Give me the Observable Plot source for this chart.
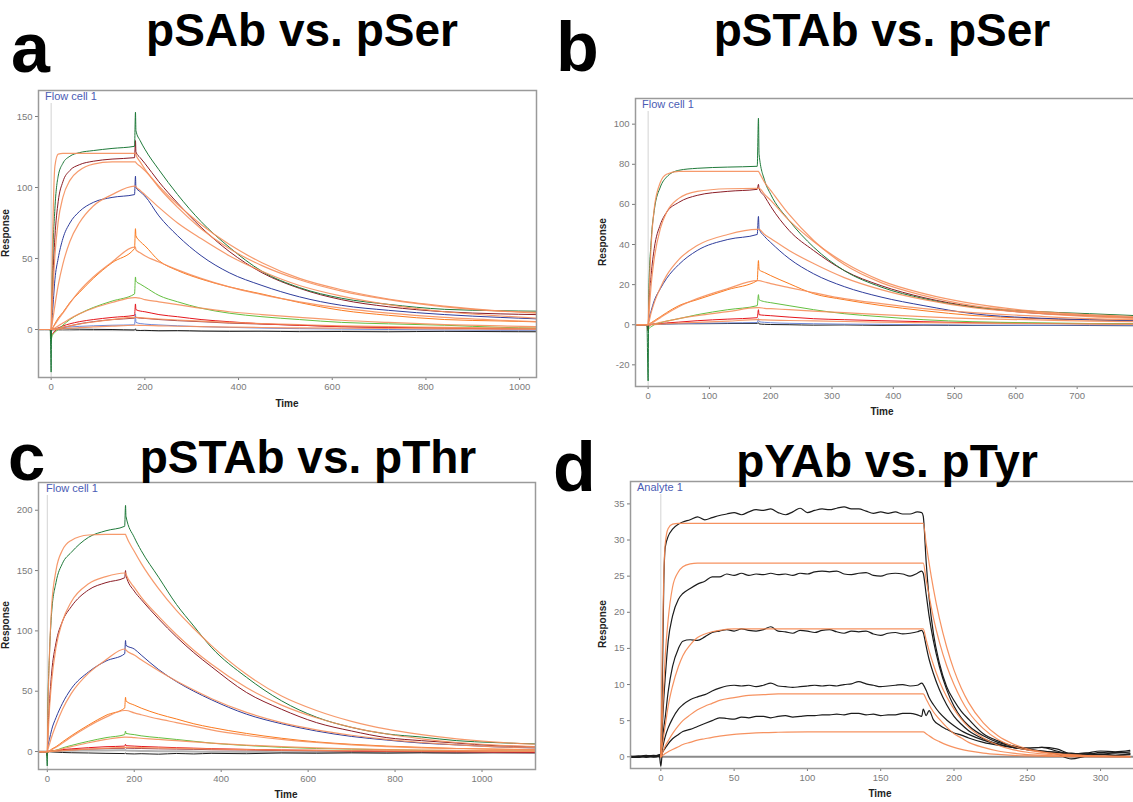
<!DOCTYPE html>
<html><head><meta charset="utf-8">
<script src="https://cdn.jsdelivr.net/npm/d3@7"></script>
<script src="https://cdn.jsdelivr.net/npm/@observablehq/plot@0.6"></script>
<style>
html,body{margin:0;padding:0;background:#fff;}
body{width:1133px;height:802px;overflow:hidden;position:relative;font-family:"Liberation Sans",Arial,sans-serif;}
.pan{position:absolute;}
#overlay{position:absolute;left:0;top:0;pointer-events:none;}
</style></head><body>
<script>
// ---------------- Panel a : pSAb vs. pSer ----------------
const tA = [-27, -2, 0, 1, 3, 8, 15, 25, 40, 60, 90, 130, 178, 180, 181, 190, 200, 230, 270, 320, 380, 450, 530, 620, 720, 840, 960, 1036];
const aGreen   = [0, 0, -30, 10, 45, 85, 108, 117, 122, 124.5, 126, 127.5, 129, 153, 140, 133, 127, 112.5, 95, 76, 58, 41, 29.5, 22, 17.7, 14.2, 13.2, 12.9];
const aMaroon  = [0, 0, -5, 10, 30, 65, 90, 104, 112, 116, 118.5, 120, 121, 133, 125, 121, 117, 104, 89, 72, 55, 40, 29, 21, 16, 12.5, 11, 10.5];
const aBlue    = [0, 0, -3, 3, 12, 35, 50, 64, 75, 83, 89.5, 93, 95, 108, 100, 97, 94, 80, 66, 52, 40, 31, 23, 17, 13.5, 10.5, 8.5, 7.5];
const aOrange  = [0, 0, -2, 0, 1, 4, 8, 12, 19, 26, 36, 47, 57, 71, 66, 62, 59, 48.5, 41.5, 35.5, 30, 25, 19, 13.5, 10, 7, 6, 5.4];
const aLgreen  = [0, 0, -8, -6, -4, -2, 0, 3, 7, 11, 15.5, 20, 25, 37, 34, 32, 30, 24, 19.5, 15, 11.5, 9, 7, 5, 4, 3, 1.5, 1];
const aRed     = [0, 0, -5, -4, -3, -1, 1, 2.5, 4, 5.5, 7, 8.5, 10, 18, 14, 13, 12.5, 10.5, 9, 7, 5.5, 4, 3, 2, 1.5, 1, 0.5, 0.5];
const aMaroon2 = [0, 0, -2, -1, 0, 0.5, 1, 1.5, 2.5, 4, 5.5, 7, 8, 9, 8.5, 8, 7.8, 7, 6.2, 5.5, 4.5, 3.8, 3, 2, 1.5, 1, 0.5, 0.5];
const aBlue2   = [0, 0, -1, 0, 0.3, 0.6, 1, 1.4, 1.8, 2.2, 2.6, 3, 3.3, 11, 5, 4.2, 3.8, 3.2, 2.6, 2, 1.5, 1, 0.6, 0.3, 0, -0.3, -0.5, -0.5];
const aBlack   = [0, 0, 0, 0.2, 0.3, 0.3, 0.2, 0.4, 0.3, 0.2, 0.1, 0, -0.3, 0.5, -0.5, -0.7, -0.6, -0.9, -0.8, -1.1, -1.3, -1.2, -1.5, -1.4, -1.6, -1.3, -1.5, -1.6];
const aGray    = [-0.5, -0.5, -1, -1, -0.8, -0.8, -0.7, -0.7, -0.8, -0.6, -0.7, -0.8, -0.8, -0.5, -0.8, -0.8, -0.9, -1, -1, -1.1, -1, -1.2, -1.1, -1, -1.1, -1.2, -1, -1];
const aFit1 = [0, 0, 0, 20, 60, 115, 123.5, 124, 124, 124, 124, 124, 124, 124, 123, 118, 113, 100, 86, 71, 57, 45, 35, 27, 21, 16, 13, 12];
const aFit2 = [0, 0, 0, 8, 22, 52, 76, 93, 105, 112, 116.5, 118, 118, 118, 117.5, 115, 112, 101, 88, 74, 60, 47, 36, 28, 21.5, 16.5, 13, 11.5];
const aFit3 = [0, 0, 0, 2, 6, 17, 31, 46, 62, 75, 87, 95, 101, 101, 100.5, 98, 95, 86, 75, 64, 52, 41, 31, 23.5, 17.5, 12.5, 9.5, 8];
const aFit4 = [0, 0, 0, 0.3, 1, 3.5, 7, 11.5, 18.5, 27, 37, 47.5, 58, 58, 56, 54, 52, 47.5, 42, 36, 30, 24.5, 19.5, 15, 11.5, 8.5, 6.5, 5.5];
const aFit5 = [0, 0, 0, 0, 0.2, 1, 2.5, 4.5, 7.5, 11, 15, 19, 22.5, 22.5, 22.5, 22, 21, 19.5, 17.5, 15, 12.5, 10.5, 8.5, 6.5, 5, 3.5, 2.5, 2];
const aFit6 = [0, 0, 0, 0, 0, 0.3, 0.8, 1.5, 2.5, 3.8, 5.3, 7, 8.5, 8.5, 8.5, 8.3, 8, 7.4, 6.7, 5.9, 5, 4.2, 3.4, 2.6, 2, 1.5, 1.1, 0.9];
const aFit7 = [0, 0, 0, 0, 0, 0.1, 0.3, 0.5, 0.9, 1.3, 1.8, 2.4, 3, 3, 3, 2.9, 2.8, 2.6, 2.3, 2, 1.7, 1.4, 1.1, 0.9, 0.7, 0.5, 0.4, 0.3];
const aXTicks = [0, 200, 400, 600, 800, 1000];
const aYTicks = [0, 50, 100, 150];

// ---------------- Panel b : pSTAb vs. pSer ----------------
const tB = [-21, -2, 0, 1, 5, 10, 20, 30, 50, 80, 130, 178, 180, 181, 190, 200, 230, 270, 320, 380, 450, 530, 620, 720, 800];
const bGreen  = [0, 0, -28, 15, 42, 57, 68.7, 73.6, 77, 78, 78.6, 79, 103, 85, 72, 65, 52, 38.7, 27, 18.8, 13, 8.8, 6.8, 5.5, 4.5];
const bMaroon = [0, 0, -3, 8, 25, 38, 50, 56, 61, 64.5, 66.5, 67.5, 70, 68, 64, 59, 47, 37, 27, 19.5, 13.5, 9, 6, 4.5, 3.5];
const bBlue   = [0, 0, -2, 2, 7, 12, 18, 23, 30, 37, 42.5, 45, 54, 48, 44, 41, 33, 25.4, 19, 13.8, 9.5, 5.5, 3.5, 2.5, 2];
const bOrange = [0, 0, -1, 0, 1, 2, 4, 6, 9.5, 12.5, 17.5, 22, 32, 27.5, 26, 24.5, 20.5, 15.5, 12.5, 9.6, 7, 4.6, 3.2, 2.4, 2];
const bLgreen = [0, 0, -3, -2, -1, 0, 1, 1.8, 3, 5, 7.5, 9.5, 15, 12.5, 11.5, 11, 9.5, 7.5, 5.5, 4, 2.5, 1.5, 1, 0.6, 0.5];
const bRed    = [0, 0, -2, -1, 0, 0.3, 0.6, 0.9, 1.3, 2, 2.8, 3.5, 7.5, 5, 4.7, 4.5, 3.8, 3, 2.5, 2, 1.5, 1, 0.7, 0.5, 0.4];
const bBlue2  = [0, 0, -1, 0, 0.1, 0.2, 0.3, 0.4, 0.5, 0.7, 0.9, 1.1, 3, 1.5, 1.2, 1, 0.7, 0.5, 0.3, 0.2, 0, -0.2, -0.3, -0.2, -0.3];
const bBlack  = [-0.3, -0.3, 0, 0.1, 0.2, 0.3, 0.3, 0.4, 0.5, 0.5, 0.6, 0.7, 1, 0.4, 0.2, 0.1, 0, -0.2, -0.1, -0.3, -0.2, -0.4, -0.3, -0.4, -0.5];
const bFit1 = [0, 0, 0, 10, 40, 58, 71, 75, 76.5, 76.5, 76.5, 76.5, 76.5, 76, 71, 67, 55, 42, 30, 21, 14.5, 9.5, 6.5, 4.5, 3.5];
const bFit2 = [0, 0, 0, 4, 20, 33, 48, 56, 63, 66.5, 67.8, 68, 68, 68, 65, 62, 52, 41.5, 31, 22, 15.5, 10.5, 7, 5, 4];
const bFit3 = [0, 0, 0, 1, 6, 11, 18.5, 24.5, 32.5, 39.5, 45, 47.5, 47.5, 47.5, 45, 43, 37, 30.5, 23.5, 17.5, 12.5, 8.5, 6, 4, 3];
const bFit4 = [0, 0, 0, 0.2, 0.8, 1.5, 3.5, 5.5, 9, 13, 18, 22, 22, 22, 21.3, 20.5, 18.5, 16, 13, 10.5, 8, 6, 4.5, 3, 2.5];
const bFit5 = [0, 0, 0, 0, 0.2, 0.5, 1.2, 1.8, 3, 4.5, 6.5, 8.5, 8.5, 8.5, 8.2, 8, 7.5, 6.8, 6, 5, 4, 3, 2.5, 1.8, 1.5];
const bFit6 = [0, 0, 0, 0, 0, 0.1, 0.3, 0.5, 0.8, 1.2, 1.8, 2.5, 2.5, 2.5, 2.4, 2.3, 2.1, 1.9, 1.6, 1.3, 1, 0.8, 0.6, 0.4, 0.3];
const bXTicks = [0, 100, 200, 300, 400, 500, 600, 700];
const bYTicks = [-20, 0, 20, 40, 60, 80, 100];

// ---------------- Panel c : pSTAb vs. pThr ----------------
const tC = [-20, -2, 0, 1, 5, 10, 20, 35, 55, 95, 135, 178, 180, 181, 200, 216, 256, 297, 337, 377, 458, 539, 619, 700, 781, 861, 942, 1023, 1123];
const cGreen   = [0, 0, -12, 30, 80, 115, 140, 156, 165, 177.6, 183, 186.7, 204, 195, 177.6, 166.6, 144.5, 122, 104, 86.5, 61.6, 42, 28.5, 20, 14.6, 12, 9, 7.5, 6.3];
const cMaroon  = [0, 0, -4, 10, 40, 65, 90, 108, 120, 134, 140, 144, 150, 146, 133, 126, 110, 95, 82, 70.5, 49, 35, 24, 17, 11.5, 9, 7, 5, 4];
const cBlue    = [0, 0, -3, 3, 10, 18, 28, 40, 52, 66, 75, 81, 92, 88, 85, 80, 68, 58, 50, 43, 31, 23, 17, 12.5, 9.5, 7, 5.5, 4, 3];
const cOrange  = [0, 0, -2, -1, 0.5, 2, 4, 8, 13, 22, 30, 36, 45, 42, 38.5, 36, 31, 27, 23, 20, 15, 11, 8, 6, 4.5, 3.5, 2.5, 2, 1.5];
const cLgreen  = [0, 0, -2, -1, 0, 0.3, 1, 3, 5, 8.5, 11.5, 14, 17, 15, 14, 13, 11.5, 10, 8.5, 7, 5, 3.5, 2.5, 2, 1.5, 1, 0.8, 0.6, 0.5];
const cRed     = [0, 0, -1, 0, 0.3, 0.6, 1, 1.6, 2.2, 3.2, 4, 4.5, 6, 4.8, 4.5, 4.2, 3.7, 3.2, 2.8, 2.4, 1.8, 1.3, 1, 0.6, 0.3, 0.2, 0, -0.2, -0.5];
const cMaroon2 = [0, 0, -1, 0, 0.2, 0.4, 0.7, 1, 1.4, 2, 2.4, 2.7, 3.2, 2.8, 2.6, 2.5, 2.2, 2, 1.8, 1.5, 1.2, 0.8, 0.5, 0.2, 0, -0.2, -0.5, -0.8, -1];
const cBlack   = [-0.5, -0.5, -1, -0.5, 0, -0.3, -0.5, -0.8, -1, -1.2, -1.5, -1.7, -1.2, -1.8, -2, -1.8, -2.2, -1.6, -2, -1.5, -1.8, -1.2, -1.4, -1.1, -1.3, -1, -1.2, -0.9, -1];
const cGray    = [0, 0, -0.3, -0.2, 0, 0.2, 0.3, 0.5, 0.6, 0.8, 0.9, 1, 1.2, 0.8, 0.6, 0.5, 0.3, 0.2, 0, -0.2, -0.3, -0.5, -0.6, -0.7, -0.8, -0.9, -1, -1, -1];
const cFit1 = [0, 0, 0, 25, 80, 120, 150, 167, 175, 179.5, 180, 180, 180, 179, 166, 156, 135, 117, 102, 88, 64, 46, 34, 25, 18.5, 14, 10.5, 8, 6];
const cFit2 = [0, 0, 0, 8, 35, 58, 86, 108, 124, 139, 145, 148, 148, 147, 136, 128, 112, 97, 84, 72.5, 53, 38.5, 28, 20, 14.5, 10.5, 7.5, 5.5, 4];
const cFit3 = [0, 0, 0, 1.5, 6, 12, 22, 35, 48, 65, 76, 85, 85, 84, 80, 76, 67, 58.5, 51, 44, 32.5, 24, 18, 13.5, 10, 7.5, 5.5, 4, 3];
const cFit4 = [0, 0, 0, 0.2, 0.6, 1.5, 3.5, 7, 12, 21, 28.5, 34, 34, 34, 32, 30.5, 27, 24, 21, 18, 13.5, 10, 7.5, 5.5, 4, 3, 2.5, 2, 1.5];
const cFit5 = [0, 0, 0, 0, 0.1, 0.4, 1, 2.3, 4, 7.3, 10, 12, 12, 12, 11.5, 11, 10, 9, 8, 7, 5.3, 4, 3, 2.2, 1.6, 1.2, 0.9, 0.7, 0.5];
const cFit6 = [0, 0, 0, 0, 0, 0.1, 0.3, 0.7, 1.2, 2, 2.8, 3.5, 3.5, 3.5, 3.4, 3.3, 3, 2.7, 2.4, 2.1, 1.6, 1.2, 0.9, 0.7, 0.5, 0.4, 0.3, 0.2, 0.2];
const cXTicks = [0, 200, 400, 600, 800, 1000];
const cYTicks = [0, 50, 100, 150, 200];

// ---------------- Panel d : pYAb vs. pTyr ----------------
const tD = [-21, -15, -10, -5, -1, 0, 1, 2, 3, 5, 8, 12, 15, 20, 25, 30, 35, 40, 45, 50, 55, 60, 65, 70, 75, 80, 85, 90, 95, 100, 105, 110, 115, 120, 125, 130, 135, 140, 145, 150, 155, 160, 165, 170, 175, 178, 179, 181, 183, 186, 190, 195, 200, 205, 210, 220, 230, 240, 250, 260, 270, 280, 290, 300, 310, 320];
const dK1 = [0, 0.1, 0.2, 0, 0.2, 0.5, 10, 24, 29, 30.5, 31.5, 32.2, 32.5,
  32.8, 33.2, 32.8, 33.1, 33.4, 33.6, 33.8, 33.5, 33.9, 34.2, 34.1, 34.3, 33.8, 33.5, 33.9, 34.4, 33.8, 34.1, 34.3, 34.2, 34.4, 34.6, 34.3, 34.3, 34.0, 33.7, 33.9, 33.7, 33.9, 33.6, 33.6, 33.9,
  33.8, 33.3, 27, 22, 17, 13, 9.7, 7.8, 6.3, 5.2, 3.2, 2.2, 1.5, 1.1, 0.8, 0.6, 0.5, 0.3, 0.6, 0.5, 0.7];
const dK2 = [0, -0.1, 0.1, 0, 0.1, 0.3, 4, 8, 11, 16, 19.5, 21.8, 22.6,
  23.3, 23.9, 24.3, 24.9, 24.9, 25.3, 25.1, 25.4, 25.1, 25.3, 25.2, 25.4, 25.2, 25.3, 25.1, 25.4, 25.3, 25.6, 25.7, 25.6, 25.7, 25.3, 25.2, 25.4, 25.5, 25.1, 25.0, 25.3, 25.4, 25.3, 25.0, 25.4,
  25.7, 25.4, 22.5, 19.5, 16, 12.5, 9.3, 7, 5.4, 4.3, 2.9, 2, 1.5, 1.2, 1.3, 0.8, 0.3, 0.2, 0.4, 0.2, 0.4];
const dK3 = [-0.1, 0, 0.1, 0.1, 0.3, 0.4, 2, 4, 5.5, 9, 12.5, 15, 16,
  16.2, 16.1, 16.6, 17.2, 17.4, 17.6, 17.4, 17.7, 17.5, 17.4, 17.6, 18.0, 17.4, 17.3, 17.1, 17.5, 17.4, 17.2, 17.5, 17.6, 17.3, 17.1, 17.4, 17.3, 17.4, 17.0, 16.8, 17.1, 17.2, 17.0, 17.1, 17.3,
  17.5, 17.2, 15.3, 13.5, 11.5, 9.3, 7.2, 5.6, 4.5, 3.6, 2.5, 1.8, 1.3, 1.0, 0.7, 0.4, -0.3, 0.1, 0.3, 0.2, 0.3];
const dK4 = [0, 0.1, -0.1, 0.1, 0.2, 0.3, 1, 2, 2.8, 4, 5.3, 6.6, 7.2,
  7.9, 8.3, 8.6, 9.1, 9.5, 9.8, 9.9, 9.8, 9.9, 9.7, 9.9, 10.2, 9.8, 9.7, 9.6, 9.7, 9.8, 9.9, 9.8, 9.9, 9.8, 10.0, 10.1, 10.4, 10.1, 9.9, 9.7, 9.8, 9.9, 10.0, 9.8, 9.9,
  10.2, 10.0, 9.2, 8.2, 7.2, 6.1, 5.1, 4.3, 3.6, 3.1, 2.3, 1.7, 1.3, 1.0, 0.8, 0.6, 0.4, 0.5, 0.3, 0.6, 0.5];
const dK5 = [0.1, 0, 0.1, 0.2, 0.1, -1.3, 0.5, 0.9, 1.2, 1.8, 2.5, 3.1, 3.5,
  3.8, 4.2, 4.6, 5.0, 5.4, 5.3, 5.2, 5.5, 5.4, 5.6, 5.6, 5.4, 5.6, 5.7, 5.5, 5.6, 5.7, 5.7, 5.8, 5.8, 5.9, 5.8, 6.0, 6.0, 5.8, 5.9, 5.7, 5.8, 5.8, 6.0, 6.0, 5.8,
  5.6, 6.6, 5.7, 6.4, 5.1, 4.4, 3.8, 3.3, 3.0, 2.6, 2.0, 1.6, 1.3, 1.2, 1.3, 1.1, 0.4, 0.5, 0.8, 0.7, 0.9];
const tDfit = [0, 1, 2, 3, 5, 8, 12, 15, 20, 25, 30, 35, 40, 50, 60, 70, 80, 100, 179, 181, 183, 186, 190, 195, 200, 205, 210, 220, 230, 240, 250, 260, 270, 280, 300, 320];
const dFit1 = [0, 15, 25, 29.5, 31.6, 32.2, 32.3, 32.3, 32.3, 32.3, 32.3, 32.3, 32.3, 32.3, 32.3, 32.3, 32.3, 32.3, 32.3, 29.5, 26.8, 23.2, 19.2, 15.2, 12, 9.5, 7.5, 4.7, 2.9, 1.8, 1.1, 0.7, 0.45, 0.3, 0.1, 0.05];
const dFit2 = [0, 5, 10, 14, 19, 23.5, 25.6, 26.3, 26.7, 26.8, 26.8, 26.8, 26.8, 26.8, 26.8, 26.8, 26.8, 26.8, 26.8, 24.5, 22.3, 19.2, 15.9, 12.6, 10, 7.9, 6.2, 3.9, 2.4, 1.5, 0.95, 0.6, 0.37, 0.23, 0.09, 0.04];
const dFit3 = [0, 1.5, 3, 4.3, 7, 9.8, 12.5, 14, 15.5, 16.5, 17, 17.3, 17.5, 17.7, 17.7, 17.7, 17.7, 17.7, 17.7, 16.2, 14.7, 12.7, 10.5, 8.3, 6.6, 5.2, 4.1, 2.6, 1.6, 1.0, 0.63, 0.4, 0.25, 0.15, 0.06, 0.02];
const dFit4 = [0, 0.5, 1, 1.5, 2.2, 3.2, 4.3, 5, 5.8, 6.5, 7, 7.4, 7.8, 8.2, 8.5, 8.6, 8.7, 8.7, 8.7, 8, 7.2, 6.2, 5.2, 4.1, 3.2, 2.6, 2, 1.3, 0.8, 0.5, 0.3, 0.2, 0.12, 0.08, 0.03, 0.01];
const dFit5 = [0, 0.15, 0.3, 0.45, 0.7, 1, 1.4, 1.7, 2, 2.3, 2.5, 2.7, 2.85, 3.1, 3.25, 3.35, 3.4, 3.45, 3.45, 3.2, 2.9, 2.5, 2.1, 1.65, 1.3, 1.03, 0.82, 0.52, 0.33, 0.2, 0.13, 0.08, 0.05, 0.03, 0.01, 0];
const tDzero = [-21, 324];
const dZero = [0, 0];
const dXTicks = [0, 50, 100, 150, 200, 250, 300];
const dYTicks = [0, 5, 10, 15, 20, 25, 30, 35];

// ---------------- drawing ----------------
const C = {green:"#1f7a3a", maroon:"#8b1d26", blue:"#2f3d9c", orange:"#fb7a1e", lgreen:"#63bf40",
           red:"#e5161d", maroon2:"#a3454c", blue2:"#6f89d8", black:"#1c1c1c", gray:"#b4b4b4", fit:"#f58f5c"};
const FONT = '"Liberation Sans", Arial, sans-serif';

function line(t, v, stroke, w, op) {
  const data = t.map((x, i) => ({t: x, v: v[i]}));
  return Plot.line(data, {x: "t", y: "v", stroke, strokeWidth: w, strokeOpacity: op ?? 1, curve: "monotone-x", clip: true});
}

function panel(cfg) {
  const fr = cfg.frame; // [left, top, right, bottom] in page px
  const marks = [
    Plot.ruleX([0], {stroke: "#d3d3d3", strokeWidth: 1, insetTop: 13}),
    ...cfg.measured.map(s => line(s.t, s.v, s.c, s.w ?? 1)),
    ...cfg.fits.map(s => line(s.t, s.v, s.c ?? C.fit, 1.2, 0.9)),
    Plot.frame({stroke: "#9a9a9a", strokeWidth: 1.5})
  ];
  const svg = Plot.plot({
    width: cfg.width, height: cfg.height,
    marginLeft: fr[0] - cfg.left, marginTop: fr[1] - cfg.top,
    marginRight: cfg.left + cfg.width - fr[2], marginBottom: cfg.top + cfg.height - fr[3],
    x: {domain: cfg.xDomain, ticks: cfg.xTicks, tickSize: 3, tickPadding: 3, label: null, tickFormat: d => String(d)},
    y: {domain: cfg.yDomain, ticks: cfg.yTicks, tickSize: 3, tickPadding: 3, label: null, tickFormat: d => String(d)},
    style: {fontFamily: FONT, fontSize: "9.5px", color: "#7a7a7a", background: "transparent", overflow: "visible"},
    marks
  });
  svg.classList.add("pan");
  svg.style.position = "absolute";
  svg.style.left = cfg.left + "px";
  svg.style.top = cfg.top + "px";
  document.body.appendChild(svg);
}

panel({
  left: 0, top: 80, width: 548, height: 330, frame: [38, 90, 536, 377],
  xDomain: [-27, 1036], yDomain: [-33.8, 168.3], xTicks: aXTicks, yTicks: aYTicks,
  measured: [
    {t: tA, v: aGray, c: C.gray}, {t: tA, v: aBlack, c: C.black}, {t: tA, v: aBlue2, c: C.blue2},
    {t: tA, v: aMaroon2, c: C.maroon2}, {t: tA, v: aRed, c: C.red}, {t: tA, v: aLgreen, c: C.lgreen},
    {t: tA, v: aOrange, c: C.orange}, {t: tA, v: aBlue, c: C.blue}, {t: tA, v: aMaroon, c: C.maroon},
    {t: tA, v: aGreen, c: C.green}
  ],
  fits: [aFit7, aFit6, aFit5, aFit4, aFit3, aFit2, aFit1].map(v => ({t: tA, v}))
});

panel({
  left: 580, top: 88, width: 560, height: 330, frame: [635, 98, 1136, 386],
  xDomain: [-20.6, 796.8], yDomain: [-30.8, 112.8], xTicks: bXTicks, yTicks: bYTicks,
  measured: [
    {t: tB, v: bBlack, c: C.black}, {t: tB, v: bBlue2, c: C.blue2}, {t: tB, v: bRed, c: C.red},
    {t: tB, v: bLgreen, c: C.lgreen}, {t: tB, v: bOrange, c: C.orange}, {t: tB, v: bBlue, c: C.blue},
    {t: tB, v: bMaroon, c: C.maroon}, {t: tB, v: bGreen, c: C.green}
  ],
  fits: [bFit6, bFit5, bFit4, bFit3, bFit2, bFit1].map(v => ({t: tB, v}))
});

panel({
  left: 0, top: 472, width: 548, height: 320, frame: [38, 482, 535, 769],
  xDomain: [-20.2, 1123], yDomain: [-14.9, 223], xTicks: cXTicks, yTicks: cYTicks,
  measured: [
    {t: tC, v: cGray, c: C.gray, w: 2}, {t: tC, v: cBlack, c: C.black}, {t: tC, v: cMaroon2, c: C.maroon2},
    {t: tC, v: cRed, c: C.red}, {t: tC, v: cLgreen, c: C.lgreen}, {t: tC, v: cOrange, c: C.orange},
    {t: tC, v: cBlue, c: C.blue}, {t: tC, v: cMaroon, c: C.maroon}, {t: tC, v: cGreen, c: C.green}
  ],
  fits: [cFit6, cFit5, cFit4, cFit3, cFit2, cFit1].map(v => ({t: tC, v}))
});

panel({
  left: 580, top: 471, width: 560, height: 320, frame: [630, 481, 1136, 768],
  xDomain: [-20.7, 324.5], yDomain: [-1.62, 38.1], xTicks: dXTicks, yTicks: dYTicks,
  measured: [
    {t: tDzero, v: dZero, c: "#8a8a8a", w: 2},
    {t: tD, v: dK5, c: C.black, w: 1.2}, {t: tD, v: dK4, c: C.black, w: 1.2}, {t: tD, v: dK3, c: C.black, w: 1.2},
    {t: tD, v: dK2, c: C.black, w: 1.2}, {t: tD, v: dK1, c: C.black, w: 1.2}
  ],
  fits: [dFit5, dFit4, dFit3, dFit2, dFit1].map(v => ({t: tDfit, v, c: "#f5864f"}))
});

// ---------------- text overlay ----------------
const ov = d3.select("body").append("svg").attr("id", "overlay").attr("width", 1133).attr("height", 802)
  .style("font-family", FONT);
const letters = [["a", 11, 72, 70], ["b", 556, 71, 70], ["c", 8, 480, 67], ["d", 553, 491, 70]];
ov.selectAll("text.l").data(letters).join("text").attr("class", "l")
  .attr("x", d => d[1]).attr("y", d => d[2]).attr("font-size", d => d[3]).attr("font-weight", "bold").attr("fill", "#000")
  .text(d => d[0]);
const titles = [["pSAb vs. pSer", 302, 46], ["pSTAb vs. pSer", 882, 46], ["pSTAb vs. pThr", 308, 473], ["pYAb vs. pTyr", 887, 477]];
ov.selectAll("text.t").data(titles).join("text").attr("class", "t")
  .attr("x", d => d[1]).attr("y", d => d[2]).attr("text-anchor", "middle")
  .attr("font-size", 46).attr("font-weight", "bold").attr("fill", "#000").text(d => d[0]);
const corner = [["Flow cell 1", 45, 100], ["Flow cell 1", 642, 108], ["Flow cell 1", 46, 492], ["Analyte 1", 637, 491]];
ov.selectAll("text.c").data(corner).join("text").attr("class", "c")
  .attr("x", d => d[1]).attr("y", d => d[2]).attr("font-size", 11).attr("fill", "#4a5cb4").text(d => d[0]);
const timeLab = [[287, 407], [882, 415], [286, 798], [880, 797]];
ov.selectAll("text.x").data(timeLab).join("text").attr("class", "x")
  .attr("x", d => d[0]).attr("y", d => d[1]).attr("text-anchor", "middle")
  .attr("font-size", 10).attr("font-weight", "bold").attr("fill", "#222").text("Time");
const respLab = [[9, 233], [606, 242], [9, 625], [606, 624]];
ov.selectAll("text.y").data(respLab).join("text").attr("class", "y")
  .attr("transform", d => `translate(${d[0]},${d[1]}) rotate(-90)`).attr("text-anchor", "middle")
  .attr("font-size", 10).attr("font-weight", "bold").attr("fill", "#222").text("Response");
</script>
</body></html>
